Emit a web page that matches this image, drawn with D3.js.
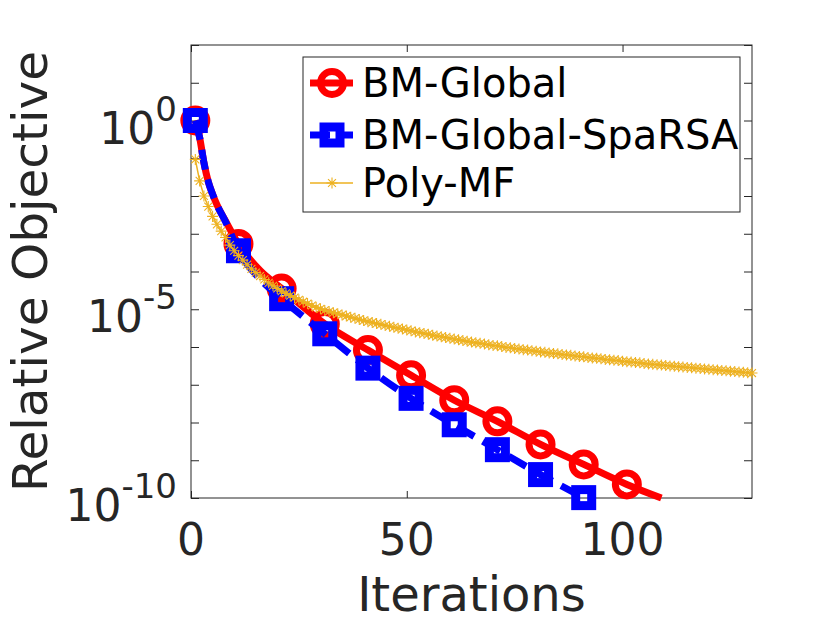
<!DOCTYPE html>
<html>
<head>
<meta charset="utf-8">
<script src="https://cdn.jsdelivr.net/npm/d3@7"></script>
<style>
  html, body { margin: 0; padding: 0; background: #fff; }
  svg { display: block; font-family: "DejaVu Sans", sans-serif; }
</style>
</head>
<body>
<div id="chart"></div>
<script>
// iterations and log10 of the relative objective
const bmIter = [1, 2, 3, 4, 5, 6, 8, 11, 16, 21, 31, 41, 51, 61, 71, 81, 91, 101, 109];
const bmExp = [0, -0.45, -1.12, -1.62, -1.95, -2.23, -2.66, -3.27, -3.97, -4.45, -5.39, -6.08, -6.75, -7.41, -7.97, -8.58, -9.11, -9.64, -10.0];

const spaIter = [1, 2, 3, 4, 5, 6, 8, 11, 16, 21, 31, 41, 51, 61, 71, 81, 91];
const spaExp = [0, -0.45, -1.12, -1.62, -1.95, -2.23, -2.68, -3.45, -4.2, -4.72, -5.65, -6.56, -7.36, -8.06, -8.72, -9.38, -9.99];

// Poly-MF, one value per iteration 1..130
const polyExp = [
  -1.03, -1.60, -2.00, -2.28, -2.54, -2.75, -2.93, -3.10, -3.30, -3.45,
  -3.58, -3.70, -3.82, -3.93, -4.03, -4.12, -4.21, -4.30, -4.38, -4.45,
  -4.52, -4.58, -4.64, -4.69, -4.75, -4.80, -4.85, -4.90, -4.95, -4.99,
  -5.03, -5.06, -5.09, -5.12, -5.15, -5.18, -5.21, -5.24, -5.27, -5.30,
  -5.33, -5.35, -5.38, -5.40, -5.43, -5.45, -5.48, -5.50, -5.52, -5.55,
  -5.57, -5.60, -5.62, -5.64, -5.66, -5.69, -5.71, -5.73, -5.75, -5.77,
  -5.79, -5.81, -5.83, -5.85, -5.87, -5.89, -5.90, -5.92, -5.94, -5.96,
  -5.97, -5.99, -6.01, -6.02, -6.04, -6.05, -6.07, -6.08, -6.10, -6.11,
  -6.13, -6.14, -6.16, -6.17, -6.18, -6.20, -6.21, -6.22, -6.24, -6.25,
  -6.26, -6.28, -6.29, -6.30, -6.31, -6.33, -6.34, -6.35, -6.36, -6.38,
  -6.39, -6.40, -6.41, -6.42, -6.44, -6.45, -6.46, -6.47, -6.48, -6.49,
  -6.50, -6.51, -6.52, -6.53, -6.54, -6.55, -6.56, -6.57, -6.58, -6.59,
  -6.60, -6.61, -6.62, -6.63, -6.64, -6.65, -6.66, -6.67, -6.68, -6.69
];

const xTicks = [0, 50, 100];
const yLabelExps = [0, -5, -10];
const seriesNames = ["BM-Global", "BM-Global-SpaRSA", "Poly-MF"];

const width = 830, height = 623;
const marginLeft = 191, marginRight = 78, marginTop = 45, marginBottom = 125;
const textColor = "#262626";

const svg = d3.select("#chart").append("svg")
    .attr("width", width)
    .attr("height", height);

svg.append("rect").attr("width", width).attr("height", height).attr("fill", "#fff");

const x = d3.scaleLinear()
    .domain([0, 130])
    .range([marginLeft, width - marginRight]);

const y = d3.scaleLog()
    .domain([1e-10, 1e2])
    .range([height - marginBottom, marginTop]);

const decades = d3.range(-10, 3).map(e => Math.pow(10, e));

// ticks on all four sides, pointing inward
function styleAxis(g) {
  g.select(".domain").remove();
  g.selectAll(".tick line").attr("stroke", textColor).attr("stroke-width", 1);
  g.selectAll(".tick text").remove();
}

svg.append("g")
    .attr("transform", `translate(0,${y.range()[0]})`)
    .call(d3.axisBottom(x).tickValues(xTicks).tickSize(-7))
    .call(styleAxis);
svg.append("g")
    .attr("transform", `translate(0,${marginTop})`)
    .call(d3.axisTop(x).tickValues(xTicks).tickSize(-7))
    .call(styleAxis);
svg.append("g")
    .attr("transform", `translate(${marginLeft},0)`)
    .call(d3.axisLeft(y).tickValues(decades).tickSize(-8))
    .call(styleAxis);
svg.append("g")
    .attr("transform", `translate(${x.range()[1]},0)`)
    .call(d3.axisRight(y).tickValues(decades).tickSize(-8))
    .call(styleAxis);

svg.append("rect")
    .attr("x", x.range()[0])
    .attr("y", marginTop)
    .attr("width", x.range()[1] - x.range()[0])
    .attr("height", y.range()[0] - marginTop)
    .attr("fill", "none")
    .attr("stroke", textColor)
    .attr("stroke-width", 1);

// tick labels
svg.append("g")
    .attr("fill", textColor)
    .attr("font-size", 44)
    .attr("text-anchor", "middle")
  .selectAll("text")
  .data(xTicks)
  .join("text")
    .attr("x", d => x(d))
    .attr("y", y.range()[0] + 57)
    .text(d => d);

const yLab = svg.append("g")
    .attr("fill", textColor)
    .attr("text-anchor", "end")
  .selectAll("text")
  .data(yLabelExps)
  .join("text")
    .attr("x", marginLeft - 14)
    .attr("y", d => y(Math.pow(10, d)) + 23)
    .attr("font-size", 44);
yLab.append("tspan").text("10");
yLab.append("tspan")
    .attr("dy", -23)
    .attr("font-size", 34)
    .text(d => d);

// axis titles
svg.append("text")
    .attr("x", (x.range()[0] + x.range()[1]) / 2)
    .attr("y", 611)
    .attr("text-anchor", "middle")
    .attr("font-size", 48)
    .attr("fill", textColor)
    .text("Iterations");

svg.append("text")
    .attr("transform", `translate(47,${(marginTop + y.range()[0]) / 2}) rotate(-90)`)
    .attr("text-anchor", "middle")
    .attr("font-size", 48.5)
    .attr("fill", textColor)
    .text("Relative Objective");

// series
const line = d3.line()
    .x(d => x(d[0]))
    .y(d => y(Math.pow(10, d[1])))
    .curve(d3.curveMonotoneX);

const bmData = bmIter.map((it, i) => [it, bmExp[i]]);
const spaData = spaIter.map((it, i) => [it, spaExp[i]]);
const polyData = polyExp.map((e, i) => [i + 1, e]);
const isMarker = d => (d[0] - 1) % 10 === 0;

const starPath = (r) => {
  const a = r * 0.72;
  return `M${-r},0H${r}M0,${-r}V${r}M${-a},${-a}L${a},${a}M${-a},${a}L${a},${-a}`;
};

// BM-Global
svg.append("path")
    .datum(bmData)
    .attr("fill", "none")
    .attr("stroke", "#ff0000")
    .attr("stroke-width", 7)
    .attr("d", line);
svg.append("g")
  .selectAll("circle")
  .data(bmData.filter(isMarker))
  .join("circle")
    .attr("cx", d => x(d[0]))
    .attr("cy", d => y(Math.pow(10, d[1])))
    .attr("r", 11.5)
    .attr("fill", "none")
    .attr("stroke", "#ff0000")
    .attr("stroke-width", 7);

// BM-Global-SpaRSA
svg.append("path")
    .datum(spaData)
    .attr("fill", "none")
    .attr("stroke", "#0000ff")
    .attr("stroke-width", 7)
    .attr("stroke-dasharray", "20,10")
    .attr("d", line);
svg.append("g")
  .selectAll("rect")
  .data(spaData.filter(isMarker))
  .join("rect")
    .attr("x", d => x(d[0]) - 8)
    .attr("y", d => y(Math.pow(10, d[1])) - 8)
    .attr("width", 16)
    .attr("height", 16)
    .attr("fill", "none")
    .attr("stroke", "#0000ff")
    .attr("stroke-width", 9);

// Poly-MF
svg.append("path")
    .datum(polyData)
    .attr("fill", "none")
    .attr("stroke", "#edb120")
    .attr("stroke-width", 1.5)
    .attr("d", d3.line().x(d => x(d[0])).y(d => y(Math.pow(10, d[1]))));
svg.append("g")
  .selectAll("path")
  .data(polyData)
  .join("path")
    .attr("transform", d => `translate(${x(d[0])},${y(Math.pow(10, d[1]))})`)
    .attr("d", starPath(5.5))
    .attr("fill", "none")
    .attr("stroke", "#edb120")
    .attr("stroke-width", 1.1);

// legend
const legend = svg.append("g").attr("transform", "translate(303,57)");
legend.append("rect")
    .attr("width", 437)
    .attr("height", 155)
    .attr("fill", "#fff")
    .attr("stroke", textColor)
    .attr("stroke-width", 1);

const rowY = [26, 78, 126];
const sx0 = 7, sx1 = 50, sxm = 29;

// row 1
legend.append("line")
    .attr("x1", sx0).attr("x2", sx1).attr("y1", rowY[0]).attr("y2", rowY[0])
    .attr("stroke", "#ff0000").attr("stroke-width", 7);
legend.append("circle")
    .attr("cx", sxm).attr("cy", rowY[0]).attr("r", 11.5)
    .attr("fill", "none").attr("stroke", "#ff0000").attr("stroke-width", 7);
// row 2
legend.append("line")
    .attr("x1", sx0).attr("x2", sx1).attr("y1", rowY[1]).attr("y2", rowY[1])
    .attr("stroke", "#0000ff").attr("stroke-width", 7).attr("stroke-dasharray", "20,10");
legend.append("rect")
    .attr("x", sxm - 8).attr("y", rowY[1] - 8).attr("width", 16).attr("height", 16)
    .attr("fill", "none").attr("stroke", "#0000ff").attr("stroke-width", 9);
// row 3
legend.append("line")
    .attr("x1", sx0).attr("x2", sx1).attr("y1", rowY[2]).attr("y2", rowY[2])
    .attr("stroke", "#edb120").attr("stroke-width", 1.5);
legend.append("path")
    .attr("transform", `translate(${sxm},${rowY[2]})`)
    .attr("d", starPath(5.5))
    .attr("fill", "none").attr("stroke", "#edb120").attr("stroke-width", 1.1);

legend.append("g")
    .attr("font-size", 40)
    .attr("fill", "#000")
  .selectAll("text")
  .data(seriesNames)
  .join("text")
    .attr("x", 59)
    .attr("y", (d, i) => rowY[i])
    .attr("dy", "0.36em")
    .text(d => d);
</script>
</body>
</html>
